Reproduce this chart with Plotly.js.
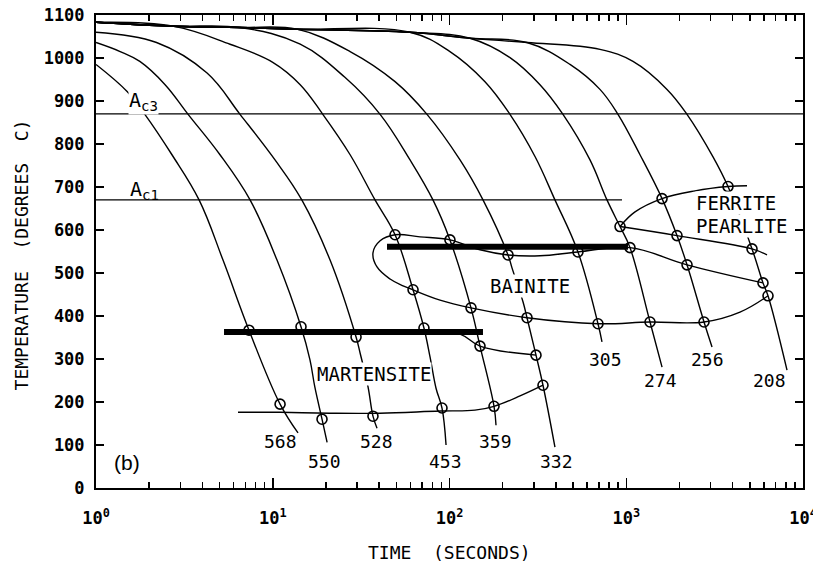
<!DOCTYPE html>
<html><head><meta charset="utf-8">
<script src="https://cdn.plot.ly/plotly-3.0.1.min.js"></script>
<style>html,body{margin:0;padding:0;background:#fff}#chart{width:813px;height:565px}</style>
</head><body><div id="chart"></div>
<script>
// ---- cooling curves (time in s, temperature in deg C) ----
const t568 = [1, 1.50, 1.89, 2.69, 3.83, 5.23, 7.34, 11.0, 13.9];
const T568 = [985, 922, 869, 775, 670, 530, 367, 195, 128];
const t550 = [1, 1.37, 1.77, 2.46, 3.32, 5.03, 7.44, 10.57, 14.45, 16.24, 17.3, 19.0, 20.3];
const T550 = [1036, 1015, 992, 938, 869, 775, 670, 530, 375, 298, 235, 160, 106];
const t528 = [1, 2.2, 4.25, 6.53, 10.3, 14.6, 21.1, 29.6, 31.2, 34.6, 36.9, 38.9];
const T528 = [1060, 1036, 965, 869, 763, 670, 530, 351, 314, 235, 167, 139];
const t453 = [1, 2.73, 5.73, 10.0, 14.3, 19.2, 27.4, 37.9, 49.2, 62.2, 71.7, 77.6, 83.9, 90.7, 95.6];
const T453 = [1083, 1074, 1032, 990, 938, 869, 775, 670, 589, 461, 372, 305, 232, 186, 100];
const t359 = [1, 2.73, 6.53, 14.3, 25.6, 40.5, 59.8, 80.6, 100.6, 132.3, 148.8, 178.6, 183.3];
const T359 = [1083, 1074, 1071, 1032, 955, 869, 763, 670, 577, 419, 330, 190, 146];
const t332 = [1, 2.73, 6.53, 13.7, 27.4, 49.2, 74.6, 114.7, 154.7, 214.3, 225.7, 260.5, 274.5, 308.6, 338, 395];
const T332 = [1083, 1074, 1071, 1067, 1015, 945, 869, 763, 670, 542, 512, 433, 396, 309, 239, 95];
const t305 = [1, 2.73, 6.53, 13.7, 59.8, 100.6, 158.8, 219.9, 304.6, 395, 533, 692, 729];
const T305 = [1083, 1074, 1071, 1067, 1060, 1015, 945, 869, 771, 670, 549, 382, 340];
const t274 = [1, 2.73, 6.53, 13.7, 59.8, 130.6, 219.9, 325, 438.6, 623.6, 778, 922, 1050, 1363, 1594];
const T274 = [1083, 1074, 1071, 1067, 1060, 1046, 1001, 938, 869, 763, 670, 608, 559, 386, 281];
const t256 = [1, 2.73, 6.53, 13.7, 59.8, 130.6, 274.5, 480.6, 710, 898, 1196, 1594, 1937, 2207, 2754, 3057];
const T256 = [1083, 1074, 1071, 1067, 1060, 1046, 1036, 985, 927, 869, 775, 673, 587, 519, 386, 328];
const t208 = [1, 2.73, 6.53, 13.7, 59.8, 130.6, 274.5, 710, 1092, 1701, 2207, 3097, 3764, 5148, 5938, 6339, 8120];
const T208 = [1083, 1074, 1071, 1067, 1060, 1046, 1036, 1020, 992, 927, 869, 770, 701, 556, 477, 447, 274];

// ---- transformation boundaries ----
const tFerrite = [922, 1121, 1594, 2449, 3764, 4822];
const TFerrite = [608, 642, 673, 691, 701, 703];
const tPearlite = [922, 1937, 5148, 6256];
const TPearlite = [608, 587, 556, 542];
const tBainiteStart = [62.2, 54.6, 46.1, 38.9, 36.9, 40.5, 49.2, 68.1, 100.6, 148.8, 214.3, 325, 533, 1050, 2207, 5938];
const TBainiteStart = [461, 470, 486, 514, 547, 575, 589, 584, 577, 554, 542, 540, 549, 559, 519, 477];
const tBainiteEnd = [62.2, 88.4, 132.3, 274.5, 692, 1363, 2754, 4401, 6339];
const TBainiteEnd = [461, 437, 419, 396, 382, 386, 386, 409, 447];
const tMartMid = [71.7, 114.7, 148.8, 308.6];
const TMartMid = [368, 358, 330, 309];
const tMf = [6.36, 11.0, 21.1, 40.5, 88.4, 139.4, 178.6, 250.6, 338];
const TMf = [176, 176, 174, 174, 179, 181, 190, 214, 239];
const tMsBar = [5.30, 154.7];
const TMsBar = [363, 363];
const tBsBar = [44.3, 1023];
const TBsBar = [561, 561];
const tAc3 = [1, 10000];
const TAc3 = [870, 870];
const tAc1 = [1, 946];
const TAc1 = [670, 670];

// ---- data points (open circles) ----
const tPts = [7.34, 14.45, 29.6, 71.7, 148.8, 308.6, 11.0, 19.0, 36.9, 90.7, 178.6, 338,
  49.2, 100.6, 214.3, 533, 1050, 62.2, 132.3, 274.5, 692, 1363, 2754, 6339,
  922, 1594, 3764, 1937, 5148, 2207, 5938];
const TPts = [367, 375, 351, 372, 330, 309, 195, 160, 167, 186, 190, 239,
  589, 577, 542, 549, 559, 461, 419, 396, 382, 386, 386, 447,
  608, 673, 701, 587, 556, 519, 477];

// ---- curve labels ----
const rateLabels = ['568', '550', '528', '453', '359', '332', '305', '274', '256', '208'];
const rateLabelT = [11.0, 19.6, 38.6, 94.9, 182.1, 403, 763, 1562, 2882, 6464];
const rateLabelTemp = [108, 61, 108, 61, 108, 61, 299, 251, 299, 251];

const regionLabels = ['MARTENSITE', 'BAINITE', 'FERRITE', 'PEARLITE'];
const regionLabelT = [37.2, 283.6, 2449, 2449];
const regionLabelTemp = [266, 469, 662, 609];

const xTickVals = [1, 10, 100, 1000, 10000];
const xTickText = ['10<sup>0</sup>', '10<sup>1</sup>', '10<sup>2</sup>', '10<sup>3</sup>', '10<sup>4</sup>'];
const xMinorVals = [2,3,4,5,6,7,8,9,20,30,40,50,60,70,80,90,200,300,400,500,600,700,800,900,2000,3000,4000,5000,6000,7000,8000,9000];

const MONO = 'DejaVu Sans Mono, monospace';
const curveLine = {color: '#000', width: 1.4, shape: 'spline', smoothing: 1.1};
const straight = {color: '#000', width: 1.4};

const curves = [[t568,T568],[t550,T550],[t528,T528],[t453,T453],[t359,T359],[t332,T332],
  [t305,T305],[t274,T274],[t256,T256],[t208,T208]];
const traces = [];
traces.push({x: tAc3, y: TAc3, mode: 'lines', line: straight});
traces.push({x: tAc1, y: TAc1, mode: 'lines', line: straight});
curves.forEach(c => traces.push({x: c[0], y: c[1], mode: 'lines', line: curveLine}));
[[tFerrite,TFerrite],[tPearlite,TPearlite],[tBainiteStart,TBainiteStart],[tBainiteEnd,TBainiteEnd],
 [tMartMid,TMartMid],[tMf,TMf]].forEach(c => traces.push({x: c[0], y: c[1], mode: 'lines', line: curveLine}));
traces.push({x: tMsBar, y: TMsBar, mode: 'lines', line: {color: '#000', width: 6}});
traces.push({x: tBsBar, y: TBsBar, mode: 'lines', line: {color: '#000', width: 6}});
traces.push({x: tPts, y: TPts, mode: 'markers',
  marker: {symbol: 'circle-open', size: 10, color: '#000', line: {width: 1.6, color: '#000'}}});

const annotations = [];
rateLabels.forEach((s, i) => annotations.push({
  x: Math.log10(rateLabelT[i]), y: rateLabelTemp[i], xref: 'x', yref: 'y', text: s, showarrow: false,
  font: {family: MONO, size: 18, color: '#000'}, xanchor: 'center', yanchor: 'middle'}));
regionLabels.forEach((s, i) => annotations.push({
  x: Math.log10(regionLabelT[i]), y: regionLabelTemp[i], xref: 'x', yref: 'y', text: s, showarrow: false,
  font: {family: MONO, size: 19, color: '#000'}, bgcolor: '#fff', borderpad: 0,
  xanchor: i >= 2 ? 'left' : 'center', yanchor: 'middle'}));
annotations.push({x: Math.log10(1.517), y: 901, xref: 'x', yref: 'y', text: 'A<sub>c3</sub>', showarrow: false,
  font: {family: MONO, size: 20, color: '#000'}, bgcolor: '#fff', borderpad: 0, xanchor: 'left', yanchor: 'middle'});
annotations.push({x: Math.log10(1.517), y: 693, xref: 'x', yref: 'y', text: 'A<sub>c1</sub>', showarrow: false,
  font: {family: MONO, size: 20, color: '#000'}, xanchor: 'left', yanchor: 'middle'});
annotations.push({x: Math.log10(1.488), y: 59, xref: 'x', yref: 'y', text: '(b)', showarrow: false,
  font: {family: 'Liberation Sans, Arial, sans-serif', size: 21, color: '#000'}, xanchor: 'center', yanchor: 'middle'});
annotations.push({x: 0.5, y: -0.1374, xref: 'paper', yref: 'paper', text: 'TIME  (SECONDS)', showarrow: false,
  font: {family: MONO, size: 18, color: '#000'}, xanchor: 'center', yanchor: 'middle'});
annotations.push({x: -0.1047, y: 0.4937, xref: 'paper', yref: 'paper', text: 'TEMPERATURE  (DEGREES  C)', showarrow: false,
  textangle: -90, font: {family: MONO, size: 18, color: '#000'}, xanchor: 'center', yanchor: 'middle'});

const layout = {
  width: 813, height: 565,
  margin: {l: 96, r: 10, t: 15, b: 77},
  paper_bgcolor: '#fff', plot_bgcolor: '#fff',
  showlegend: false,
  xaxis: {
    type: 'log', range: [0, 4], showgrid: false, zeroline: false,
    showline: true, linewidth: 2, linecolor: '#000', mirror: 'ticks',
    ticks: 'inside', ticklen: 10, tickwidth: 1.5, tickcolor: '#000',
    tickmode: 'array', tickvals: xTickVals, ticktext: xTickText,
    tickfont: {family: MONO, size: 17, color: '#000', weight: 'bold'},
    ticklabelstandoff: 14, ticklabeloverflow: 'allow',
    minor: {ticks: 'inside', ticklen: 6, tickwidth: 1.5, tickcolor: '#000', tickmode: 'array', tickvals: xMinorVals, showgrid: false}
  },
  yaxis: {
    range: [0, 1100], tick0: 0, dtick: 100, showgrid: false, zeroline: false,
    showline: true, linewidth: 2, linecolor: '#000', mirror: 'ticks',
    ticks: 'inside', ticklen: 8, tickwidth: 1.5, tickcolor: '#000',
    tickfont: {family: MONO, size: 17, color: '#000', weight: 'bold'},
    ticklabelstandoff: 6
  },
  annotations: annotations
};

Plotly.newPlot('chart', traces, layout, {staticPlot: true, displayModeBar: false});
</script></body></html>
